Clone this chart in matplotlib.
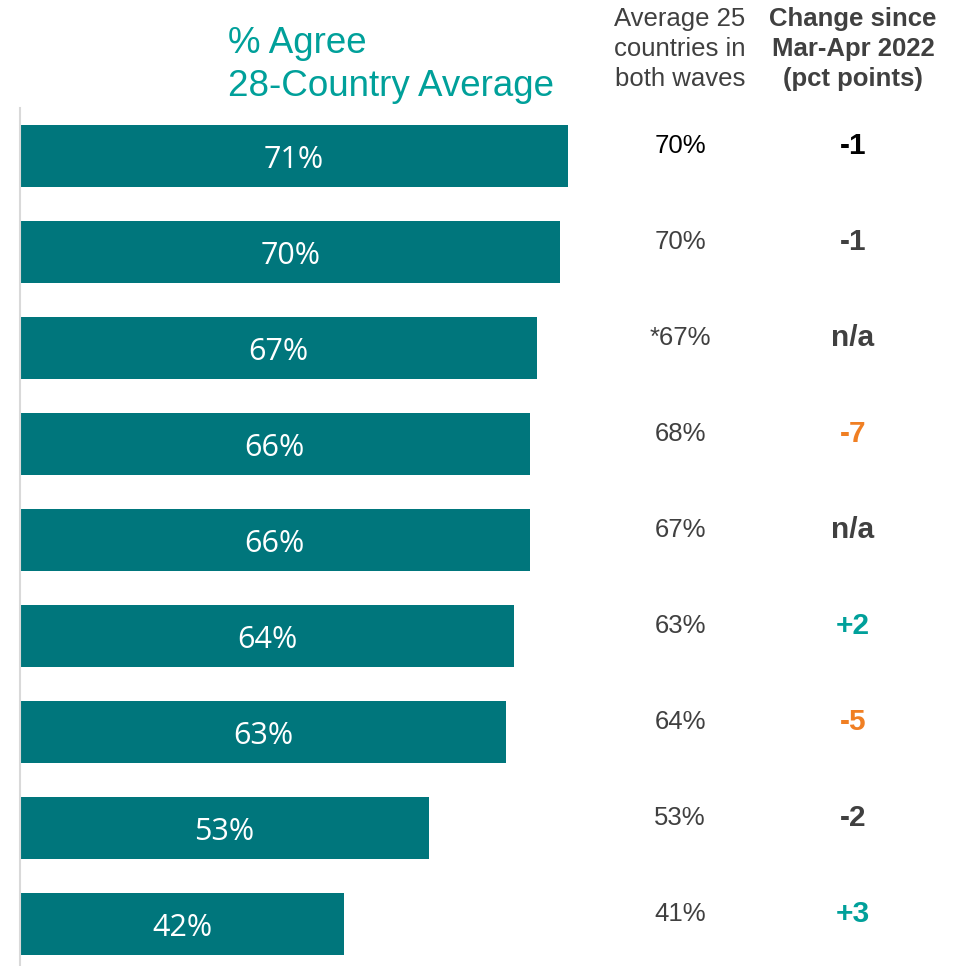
import matplotlib.pyplot as plt
import matplotlib.transforms as mtransforms

plt.rcParams['font.family'] = ['Liberation Sans', 'DejaVu Sans']

# data
agree = [71, 70, 67, 66, 66, 64, 63, 53, 42]
avg25 = ["70%", "70%", "*67%", "68%", "67%", "63%", "64%", "53%", "41%"]
change = ["-1", "-1", "n/a", "-7", "n/a", "+2", "-5", "-2", "+3"]

BAR = "#00767C"
TEAL = "#00A09A"
ORANGE = "#F07F23"
DARK = "#404040"


def change_color(s, i):
    if i == 0:
        return "black"
    if s.startswith("+"):
        return TEAL
    if s.startswith("-") and s not in ("-1", "-2"):
        return ORANGE
    return DARK


def main() -> None:
    W, H = 960, 966
    fig = plt.figure(figsize=(W / 100, H / 100), dpi=100)

    # axes from x=20 px to right edge, y=108 px to bottom
    ax = fig.add_axes([20 / W, 0, 1 - 20 / W, 1 - 108 / H])
    px_per_pct = 7.72
    ax.set_xlim(0, (W - 20) / px_per_pct)
    n = len(agree)
    ax.set_ylim((966 - 156) / 96, -0.5)

    ypos = list(range(n))
    ax.barh(ypos, agree, height=62 / 96, color=BAR)
    for y, v in zip(ypos, agree):
        ax.text(v / 2, y + 0.04, f"{v}%", ha="center", va="center", color="white",
                fontsize=22, family=["Open Sans", "DejaVu Sans"])

    for s in ["top", "right", "bottom"]:
        ax.spines[s].set_visible(False)
    ax.spines["left"].set_color("#D9D9D9")
    ax.spines["left"].set_linewidth(1.5)
    ax.set_xticks([])
    ax.set_yticks([])

    trans = mtransforms.blended_transform_factory(fig.transFigure, ax.transData)
    for i, (a, c) in enumerate(zip(avg25, change)):
        ax.text(680 / W, i - 0.1, a, transform=trans, ha="center", va="center",
                fontsize=18.5, color="black" if i == 0 else DARK, clip_on=False)
        ax.text(853 / W, i - 0.1, c, transform=trans, ha="center", va="center",
                fontsize=21.5, fontweight="bold", color=change_color(c, i), clip_on=False)

    # headers
    fig.text(228 / W, 1 - 65 / H, "% Agree\n28-Country Average", ha="left", va="center",
             fontsize=26.5, color=TEAL, linespacing=1.3)
    fig.text(680 / W, 1 - 49 / H, "Average 25\ncountries in\nboth waves", ha="center",
             va="center", fontsize=18.5, color=DARK, linespacing=1.32)
    fig.text(853 / W, 1 - 49 / H, "Change since\nMar-Apr 2022\n(pct points)", ha="center",
             va="center", fontsize=18.5, fontweight="bold", color=DARK, linespacing=1.32)

    fig.savefig("out.png", dpi=100)


if __name__ == "__main__":
    main()
